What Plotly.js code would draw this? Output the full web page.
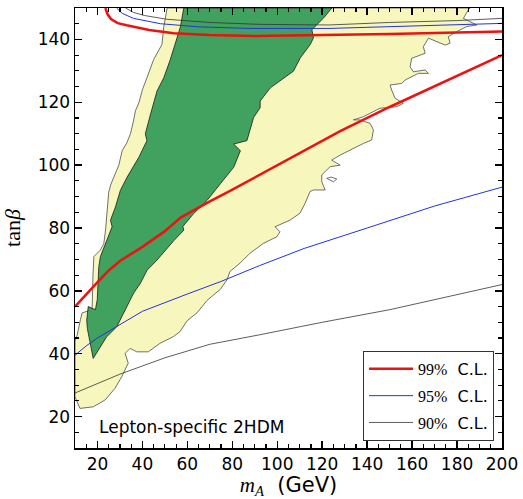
<!DOCTYPE html>
<html>
<head>
<meta charset="utf-8">
<script src="https://cdn.plot.ly/plotly-3.0.1.min.js"></script>
<style>html,body{margin:0;padding:0;background:#fff;}#chart{width:523px;height:499px;}</style>
</head>
<body>
<div id="chart"></div>
<script>
// 2-sigma (light) allowed region outline
const region2X = [51,49.5,48.7,45,42,40,38.5,36.9,36,34.7,33,31,29.5,28,26,25,24.6,24.3,23.6,22.8,21.3,18.4,18,17.6,13.2,12.4,11,10,
  10,12.2,18.1,23.4,27.8,30.8,33.7,32.3,34.5,37.5,42.6,47.8,53.7,56.7,59.9,64.3,68.8,74.7,77.6,79,83.4,87.9,93.8,99.8,101.2,99,105.7,110.1,112.4,114.6,116.1,121.3,119.8,119.8,123.5,128,124.2,128,132.4,138.3,142,142.8,141.3,136.8,133.9,138.3,
  145.7,153.2,156.1,152.4,150.9,150.2,155.4,156.9,162.8,167.3,165.8,160.6,159.1,159.8,165.8,165,167.3,174.7,176.9,176.1,179.9,184.3,188.8,182.8,185,185.8,51];
const region2Y = [150,144,138.4,133.6,127.8,124,120,117.3,114,110,107,104.6,100,97.2,94,91.4,87,83.5,79.3,75,73,70.9,65,54,53,50.8,46,44,
  26.3,22.6,23.1,25.3,29,32.7,37,40.1,41.7,40.6,40.6,43.3,45.4,47,50.5,53,57,60.5,63.5,66.2,68.8,72,75.1,77.2,78.8,80.4,82.5,84.7,87.9,91.6,92.1,92.1,94.7,96.9,99.5,100,101.6,103.2,104.8,106.9,108,111.2,113.3,114.4,114.4,115.4,
  118.1,118.6,119.7,121.3,123.9,125.5,126,127.1,129.2,129.2,130.3,129.7,131.3,134,135.6,137.7,140.4,138.2,138.8,140.9,142.5,144.1,144.6,146.7,149.4,150,150];

// small excluded hole inside the light region
const holeX = [122,124,126.5,125,122];
const holeY = [95.8,96.2,95.6,94.7,95.8];

// 1-sigma (dark) allowed region outline
const region1X = [58.4,56.9,55.4,52.4,49.5,46.5,43.6,41.3,42,38.4,33.2,30.2,28,25.8,26.5,24.3,21.3,20.6,19.9,19.1,15.9,15.2,15.5,18.1,21.3,24.1,28.6,32.3,36.1,39.1,42.1,46.5,50.2,54,58.4,58,62.8,68.8,74.7,80.6,83.6,80.6,86.5,89.5,92.4,92.4,96.9,101.3,107.2,110.2,114.7,116.1,115.4,120.6,124.3,58.4];
const region1Y = [150,144,140.5,133.6,127.8,123.6,116.2,110,107.8,102.5,96.2,92,86.7,82.5,80.4,76.1,70.9,67.7,57.2,54,55,50.7,48,38.5,42.4,45.4,48.6,53.9,59.3,62.4,66.6,69.8,73,76,79.3,80.5,84.6,88.8,94.1,99.3,104.6,106.7,107.8,115.2,118.3,120.4,124.6,126.8,129.9,134.1,138.4,140.5,143.1,146.8,150,150];

// lower exclusion curves
const cl99LowX = [10,15,19,25,30,40,50,57,70,79,92,110,128,150,175,200];
const cl99LowY = [55,59,62,66.5,69.5,74,79,83.3,88.5,91.8,96.8,103.8,110.8,118.5,126.8,135];
const cl95LowX = [10,15,20,27,40,60,75,92,112,140,170,200];
const cl95LowY = [39.5,42.5,45,48,53.5,59,63,68,73.5,80,87,93];
const cl90LowX = [10,20,30,50,70,92,120,150,175,200];
const cl90LowY = [27.5,30.5,33.5,38.7,43,46,50,54,58,62];

// upper exclusion curves
const cl99UpX = [23.5,24.5,26,29,33,43,54,70,90,123,150,180,200];
const cl99UpY = [150,148,146.5,145.2,144.5,143,142,141.4,141.1,141.3,141.7,142.2,142.5];
const cl95UpX = [28.5,31,36,48,65,88,123,160,200];
const cl95UpY = [150,148.3,146.7,145,144,143.5,143.5,144.3,145.1];
const cl90UpX = [32.5,36,41,51,70,92,123,150,180,200];
const cl90UpY = [150,148.6,147.6,146.4,145.4,144.8,144.6,145.4,146,146.7];

const legendNames = ["99%", "95%", "90%"];
const serif = "Liberation Serif, DejaVu Serif, serif";
const sans = "DejaVu Sans, sans-serif";
const nm = p => "<span style=\"font-family:" + serif + "\">" + p + "</span>&nbsp; C.L.";

const traces = [
  {x: region2X, y: region2Y, type: 'scatter', mode: 'lines', fill: 'toself',
   fillcolor: '#f7f7bd', line: {color: '#4d4d4d', width: 0.8}, showlegend: false, hoverinfo: 'skip'},
  {x: holeX, y: holeY, type: 'scatter', mode: 'lines', fill: 'toself',
   fillcolor: '#ffffff', line: {color: '#4d4d4d', width: 0.8}, showlegend: false, hoverinfo: 'skip'},
  {x: region1X, y: region1Y, type: 'scatter', mode: 'lines', fill: 'toself',
   fillcolor: '#40a25e', line: {color: '#1a1a1a', width: 0.8}, showlegend: false, hoverinfo: 'skip'},
  {x: cl99LowX, y: cl99LowY, type: 'scatter', mode: 'lines', name: nm(legendNames[0]),
   line: {color: '#ee1111', width: 2.5}, legendgroup: 'a'},
  {x: cl95LowX, y: cl95LowY, type: 'scatter', mode: 'lines', name: nm(legendNames[1]),
   line: {color: '#2233dd', width: 1}, legendgroup: 'b'},
  {x: cl90LowX, y: cl90LowY, type: 'scatter', mode: 'lines', name: nm(legendNames[2]),
   line: {color: '#333333', width: 0.8}, legendgroup: 'c'},
  {x: cl99UpX, y: cl99UpY, type: 'scatter', mode: 'lines', showlegend: false,
   line: {color: '#ee1111', width: 2.5}},
  {x: cl95UpX, y: cl95UpY, type: 'scatter', mode: 'lines', showlegend: false,
   line: {color: '#2233dd', width: 1}},
  {x: cl90UpX, y: cl90UpY, type: 'scatter', mode: 'lines', showlegend: false,
   line: {color: '#333333', width: 0.8}}
];

function axisCommon() {
  return {
    showgrid: false, zeroline: false, showline: true, linecolor: '#000', linewidth: 1.5,
    mirror: 'ticks', ticks: 'inside', ticklen: 7, tickwidth: 1.5, tickcolor: '#000',
    tickfont: {family: sans, size: 17, color: '#000'},
    minor: {dtick: 5, ticks: 'inside', ticklen: 4, tickwidth: 1.2, tickcolor: '#000'}
  };
}

const layout = {
  width: 523, height: 499,
  margin: {l: 75, r: 21, t: 8, b: 51},
  showlegend: true,
  xaxis: Object.assign(axisCommon(), {
    range: [10, 200], tick0: 0, dtick: 20,
    title: {text: "<span style=\"font-family:" + serif + "\"><i>m</i><sub><i>A</i></sub></span>  (GeV)",
            font: {family: sans, size: 21, color: '#000'}, standoff: 0}
  }),
  yaxis: Object.assign(axisCommon(), {
    range: [10, 150], tick0: 0, dtick: 20,
    title: {text: "tan<i>β</i>", font: {family: serif, size: 22, color: '#000'}, standoff: 13}
  }),
  legend: {
    x: 0.9813, y: 0.016, xanchor: 'right', yanchor: 'bottom',
    bgcolor: '#fff', bordercolor: '#333', borderwidth: 1,
    font: {family: sans, size: 16, color: '#000'},
    traceorder: 'grouped', tracegroupgap: 3, itemwidth: 44
  },
  annotations: [{
    x: 20, y: 16.8, xref: 'x', yref: 'y', xanchor: 'left', yanchor: 'middle',
    text: 'Lepton-specific 2HDM', showarrow: false,
    font: {family: sans, size: 17, color: '#000'}
  }]
};

Plotly.newPlot('chart', traces, layout, {displayModeBar: false, staticPlot: true});
</script>
</body>
</html>
